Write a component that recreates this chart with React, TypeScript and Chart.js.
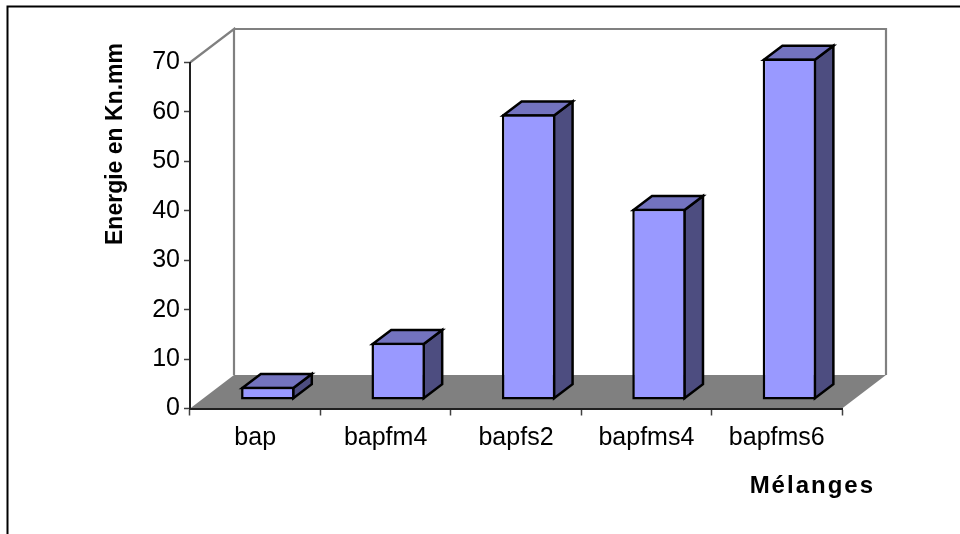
import React, { useEffect, useRef } from "react";
import { Chart, registerables } from "chart.js";

Chart.register(...registerables);

const categories = ["bap", "bapfm4", "bapfs2", "bapfms4", "bapfms6"];
const energie = [2.7, 11.6, 57.8, 38.7, 69.1];
const yTicks = [0, 10, 20, 30, 40, 50, 60, 70];
const yTitle = "Energie en Kn.mm";
const xTitle = "Mélanges";

const FONT = '"Liberation Sans", Arial, sans-serif';
const WALL_DX = 44;
const WALL_DY = -33.5;
const BAR_SHIFT_X = 12.6;
const BAR_SHIFT_Y = -8.5;
const BAR_DX = 18.5;
const BAR_DY = -14;
const BAR_LINE = 2.5;

const scene = {
  id: "scene",
  beforeDraw(chart: any) {
    const { ctx, chartArea: a } = chart;
    ctx.save();
    ctx.fillStyle = "#ffffff";
    ctx.fillRect(0, 0, chart.width, chart.height);
    // page frame
    ctx.strokeStyle = "#000000";
    ctx.lineWidth = 2;
    ctx.beginPath();
    ctx.moveTo(7.5, chart.height);
    ctx.lineTo(7.5, 6.5);
    ctx.lineTo(chart.width, 6.5);
    ctx.stroke();
    // floor
    ctx.fillStyle = "#808080";
    ctx.beginPath();
    ctx.moveTo(a.left, a.bottom);
    ctx.lineTo(a.left + WALL_DX, a.bottom + WALL_DY);
    ctx.lineTo(a.right + WALL_DX, a.bottom + WALL_DY);
    ctx.lineTo(a.right, a.bottom);
    ctx.closePath();
    ctx.fill();
    // walls
    ctx.strokeStyle = "#808080";
    ctx.lineWidth = 2.2;
    ctx.beginPath();
    ctx.moveTo(a.left, a.top);
    ctx.lineTo(a.left + WALL_DX, a.top + WALL_DY);
    ctx.lineTo(a.left + WALL_DX, a.bottom + WALL_DY);
    ctx.moveTo(a.left + WALL_DX, a.top + WALL_DY);
    ctx.lineTo(a.right + WALL_DX, a.top + WALL_DY);
    ctx.lineTo(a.right + WALL_DX, a.bottom + WALL_DY);
    ctx.stroke();
    ctx.restore();
  },
  beforeDatasetDraw(chart: any, args: any) {
    const { ctx } = chart;
    ctx.save();
    ctx.translate(BAR_SHIFT_X, BAR_SHIFT_Y);
    const meta = chart.getDatasetMeta(args.index);
    ctx.lineWidth = BAR_LINE;
    ctx.strokeStyle = "#000000";
    ctx.lineJoin = "miter";
    meta.data.forEach((el: any) => {
      const { x, y, base, width } = el.getProps(["x", "y", "base", "width"], true);
      const inset = BAR_LINE / 2;
      const l = x - width / 2 + inset;
      const r = x + width / 2 - inset;
      const t = y + inset;
      const b = base - inset;
      ctx.fillStyle = "#4D4D80";
      ctx.beginPath();
      ctx.moveTo(r, t);
      ctx.lineTo(r + BAR_DX, t + BAR_DY);
      ctx.lineTo(r + BAR_DX, b + BAR_DY);
      ctx.lineTo(r, b);
      ctx.closePath();
      ctx.fill();
      ctx.stroke();
      ctx.fillStyle = "#7373BF";
      ctx.beginPath();
      ctx.moveTo(l, t);
      ctx.lineTo(l + BAR_DX, t + BAR_DY);
      ctx.lineTo(r + BAR_DX, t + BAR_DY);
      ctx.lineTo(r, t);
      ctx.closePath();
      ctx.fill();
      ctx.stroke();
    });
  },
  afterDatasetDraw(chart: any) {
    chart.ctx.restore();
  },
  afterDraw(chart: any) {
    const { ctx } = chart;
    ctx.save();
    ctx.fillStyle = "#000000";
    ctx.textBaseline = "alphabetic";
    ctx.font = `bold 23px ${FONT}`;
    ctx.save();
    ctx.translate(121.5, 144);
    ctx.rotate(-Math.PI / 2);
    ctx.textAlign = "center";
    ctx.fillText(yTitle, 0, 0);
    ctx.restore();
    ctx.font = `bold 24px ${FONT}`;
    ctx.textAlign = "right";
    (ctx as any).letterSpacing = "2px";
    ctx.fillText(xTitle, 875, 493);
    ctx.restore();
  },
};

export default function App() {
  const ref = useRef<HTMLCanvasElement>(null);
  useEffect(() => {
    const chart = new Chart(ref.current as HTMLCanvasElement, {
      type: "bar",
      data: {
        labels: categories,
        datasets: [
          {
            label: "Energie",
            data: energie,
            backgroundColor: "#9999FF",
            borderColor: "#000000",
            borderWidth: BAR_LINE,
            borderSkipped: false,
            categoryPercentage: 1,
            barPercentage: 0.41,
          },
        ],
      },
      plugins: [scene],
      options: {
        animation: false,
        responsive: false,
        devicePixelRatio: 1,
        layout: { padding: { top: 62.5, right: 118, left: 0, bottom: 0 } },
        plugins: { legend: { display: false }, tooltip: { enabled: false } },
        scales: {
          x: {
            afterFit(s: any) {
              s.height = 125.5;
            },
            grid: { drawOnChartArea: false, tickLength: 7, tickColor: "#404040", tickWidth: 1.5 },
            border: { display: true, color: "#202020", width: 2 },
            ticks: { font: { family: FONT, size: 25 }, color: "#000000", padding: 8, maxRotation: 0 },
          },
          y: {
            min: 0,
            max: 70,
            afterFit(s: any) {
              s.width = 190;
            },
            afterBuildTicks(s: any) {
              s.ticks = yTicks.map((value) => ({ value }));
            },
            grid: { drawOnChartArea: false, tickLength: 6, tickColor: "#404040", tickWidth: 1.5 },
            border: { display: true, color: "#202020", width: 2 },
            ticks: { font: { family: FONT, size: 25 }, color: "#000000", padding: 4 },
          },
        },
      } as any,
    });
    return () => chart.destroy();
  }, []);
  return (
    <div style={{ position: "absolute", left: 0, top: 0, width: 960, height: 534, background: "#fff" }}>
      <canvas ref={ref} width={960} height={534} style={{ display: "block" }} />
    </div>
  );
}
